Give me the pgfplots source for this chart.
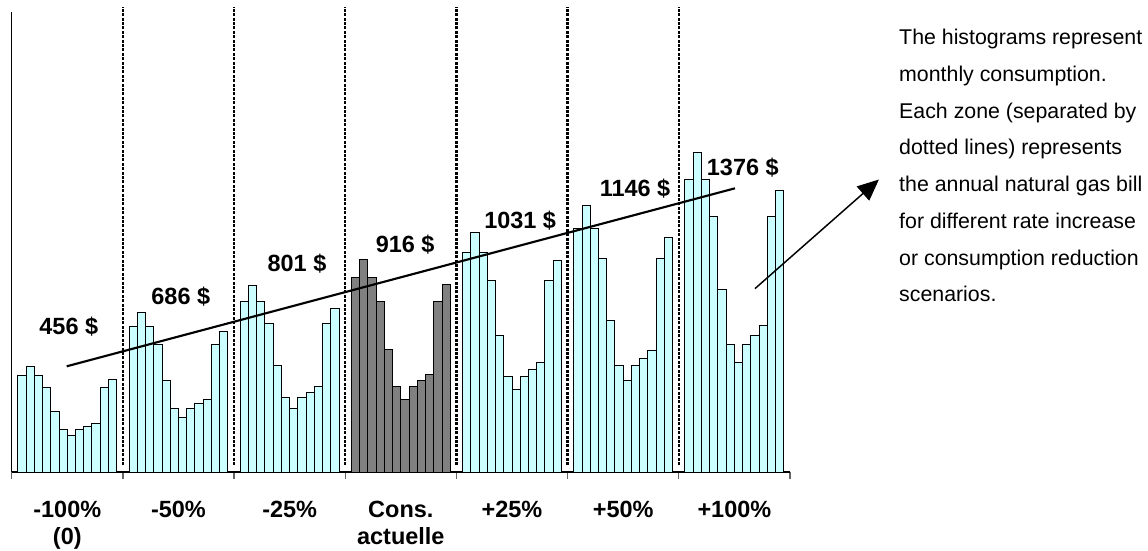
\documentclass[border=0pt]{standalone}
\usepackage{pgfplots}
\pgfplotsset{compat=1.18}
\usepackage{fontspec}
\setmainfont{Liberation Sans}
\usetikzlibrary{arrows.meta}
\definecolor{lcyan}{HTML}{CCFFFF}
\definecolor{dgray}{HTML}{808080}

\pgfplotstableread{
x y
1.25 96.7
2.25 105.7
3.25 96.7
4.25 84.7
5.25 60.3
6.25 42.3
7.25 36.3
8.25 42.3
9.25 45.3
10.25 48.3
11.25 84.7
12.25 93
}\gA
\pgfplotstableread{
x y
14.75 145.7
15.75 159.3
16.75 145.7
17.75 127.7
18.75 91.3
19.75 63.7
20.75 54.3
21.75 63.7
22.75 68.3
23.75 73
24.75 127.7
25.75 140.3
}\gB
\pgfplotstableread{
x y
28.25 170.3
29.25 186.3
30.25 170.3
31.25 149
32.25 106.7
33.25 74.7
34.25 63.7
35.25 74.7
36.25 79.7
37.25 85.7
38.25 149
39.25 164
}\gC
\pgfplotstableread{
x y
41.75 194.7
42.75 213
43.75 194.7
44.75 170.3
45.75 122.3
46.75 85.7
47.75 73
48.75 85.7
49.75 91.7
50.75 97.7
51.75 170.3
52.75 188
}\gD
\pgfplotstableread{
x y
55.25 219.3
56.25 239.7
57.25 219.3
58.25 192
59.25 137
60.25 95.7
61.25 82.3
62.25 95.7
63.25 102.7
64.25 109.7
65.25 192
66.25 211.3
}\gE
\pgfplotstableread{
x y
68.75 243.7
69.75 266.7
70.75 243.7
71.75 213.3
72.75 152
73.75 106.7
74.75 91.7
75.75 106.7
76.75 114
77.75 122
78.75 213.3
79.75 234.3
}\gF
\pgfplotstableread{
x y
82.25 292.3
83.25 319.7
84.25 292.3
85.25 255.7
86.25 182.7
87.25 128
88.25 109.3
89.25 128
90.25 137
91.25 146.3
92.25 255.7
93.25 281.7
}\gG

\begin{document}
\begin{tikzpicture}
\begin{axis}[
  scale only axis,
  width=583.7pt, height=345pt,
  xmin=0, xmax=94.5, ymin=0, ymax=460,
  axis x line=bottom, axis y line=left,
  axis line style={-, black, line width=1.2pt},
  ytick=\empty,
  xtick={6.75,20.25,33.75,47.25,60.75,74.25,87.75},
  xticklabels={{-100\%\\(0)},{-50\%},{-25\%},{Cons.\\actuelle},{+25\%},{+50\%},{+100\%}},
  major tick length=0pt,
  minor xtick={0,13.5,27,40.5,54,67.5,81,94.5},
  minor tick length=5.25pt,
  tick align=outside,
  minor tick style={line width=1pt, black!60},
  xticklabel style={font=\fontsize{17.6}{20.6}\selectfont\bfseries, align=center, anchor=north, inner sep=0pt, yshift=-21.5pt},
  clip=false,
]
\pgfplotsinvokeforeach{13.5,27,40.5,54,67.5,81}{
  \addplot[black, line width=1.8pt, dash pattern=on 2.2pt off 1.1pt] coordinates {(#1,7) (#1,465)};
}
\addplot[ybar, bar width=1, bar shift=0pt, fill=lcyan, draw=black, line width=0.75pt] table[x=x,y=y] {\gA};
\addplot[ybar, bar width=1, bar shift=0pt, fill=lcyan, draw=black, line width=0.75pt] table[x=x,y=y] {\gB};
\addplot[ybar, bar width=1, bar shift=0pt, fill=lcyan, draw=black, line width=0.75pt] table[x=x,y=y] {\gC};
\addplot[ybar, bar width=1, bar shift=0pt, fill=dgray, draw=black, line width=0.75pt] table[x=x,y=y] {\gD};
\addplot[ybar, bar width=1, bar shift=0pt, fill=lcyan, draw=black, line width=0.75pt] table[x=x,y=y] {\gE};
\addplot[ybar, bar width=1, bar shift=0pt, fill=lcyan, draw=black, line width=0.75pt] table[x=x,y=y] {\gF};
\addplot[ybar, bar width=1, bar shift=0pt, fill=lcyan, draw=black, line width=0.75pt] table[x=x,y=y] {\gG};

\addplot[black, line width=1.6pt] coordinates {(6.68,105.7) (87.82,283.7)};
\addplot[black, line width=1.1pt, -{Triangle[length=16pt,width=14pt]}] coordinates {(90.25,183.4) (105.3,292.5)};

\tikzset{lab/.style={anchor=base, inner sep=0pt, font=\fontsize{17.6}{20}\selectfont\bfseries}}
\node[lab] at (axis cs:6.93,137.7) {456 \$};
\node[lab] at (axis cs:20.53,168) {686 \$};
\node[lab] at (axis cs:34.64,200.3) {801 \$};
\node[lab] at (axis cs:47.78,219.7) {916 \$};
\node[lab] at (axis cs:61.74,243.7) {1031 \$};
\node[lab] at (axis cs:75.68,275.3) {1146 \$};
\node[lab] at (axis cs:88.77,297) {1376 \$};

\tikzset{txt/.style={anchor=base west, inner sep=0pt, font=\fontsize{16}{19}\selectfont}}
\node[txt] at (axis cs:107.73,427.5) {The histograms represent};
\node[txt] at (axis cs:107.73,390.75) {monthly consumption.};
\node[txt] at (axis cs:107.73,354) {Each zone (separated by};
\node[txt] at (axis cs:107.73,317.25) {dotted lines) represents};
\node[txt] at (axis cs:107.73,280.5) {the annual natural gas bill};
\node[txt] at (axis cs:107.73,243.75) {for different rate increase};
\node[txt] at (axis cs:107.73,207) {or consumption reduction};
\node[txt] at (axis cs:107.73,170.25) {scenarios.};

\coordinate (bbll) at (axis cs:-1.42,-78);
\coordinate (bbur) at (axis cs:137.97,472);
\end{axis}
\pgfresetboundingbox
\useasboundingbox (bbll) rectangle (bbur);
\end{tikzpicture}
\end{document}
